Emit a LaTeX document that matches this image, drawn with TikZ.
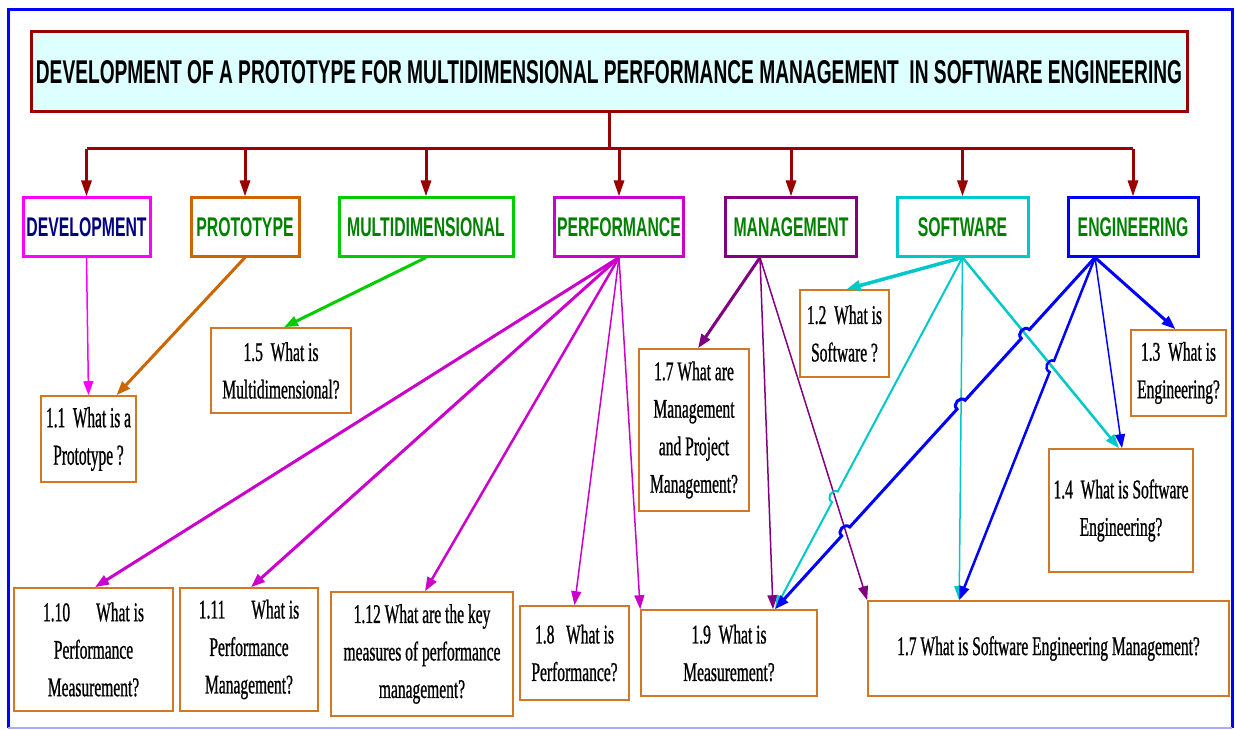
\documentclass[tikz,border=0pt]{standalone}
\usepackage{fontspec}
\usepackage{graphicx}
\usetikzlibrary{arrows.meta,calc,intersections}

\newfontfamily\labfont{Liberation Sans}[FakeStretch=0.585]
\newfontfamily\leaffont{Liberation Serif}[FakeStretch=0.575,FakeBold=0.8]
\newfontfamily\leafwidefont{Liberation Serif}[FakeStretch=0.53,FakeBold=0.8]

\definecolor{treered}{RGB}{153,0,0}
\definecolor{titlefill}{RGB}{221,255,255}
\definecolor{devmag}{RGB}{255,0,255}
\definecolor{protobrown}{RGB}{204,102,0}
\definecolor{multigreen}{RGB}{0,204,0}
\definecolor{perfmag}{RGB}{204,0,204}
\definecolor{mgmtpurple}{RGB}{128,0,128}
\definecolor{softcyan}{RGB}{0,200,200}
\definecolor{engblue}{RGB}{0,0,255}
\definecolor{labgreen}{RGB}{0,128,0}
\definecolor{labnavy}{RGB}{0,0,128}
\definecolor{leaforange}{RGB}{209,119,37}
\definecolor{paleblue}{RGB}{170,170,255}

\begin{document}
\begin{tikzpicture}[x=1pt,y=-1pt,
  tree/.style={draw=treered, line width=3pt},
  treetip/.style={-{Triangle[length=16pt,width=10pt]}},
  catbox/.style={draw, line width=3pt, fill=white, inner sep=0pt,
    minimum height=58pt, text=labgreen,
    font=\labfont\bfseries\fontsize{27}{30}\selectfont},
  leaf/.style={draw=leaforange, line width=1.6pt, fill=white, inner sep=0pt,
    align=center, font=\leaffont\fontsize{27}{37.5}\selectfont},
  con/.style={-{Triangle[length=14pt,width=10pt]}},
  hop/.style={bend right=90, looseness=1.5}
]
\useasboundingbox (0,0) rectangle (1236,730);

% outer frame
\draw[engblue, line width=3pt] (8,728) -- (8,10) -- (1232,10) -- (1232,728);
\draw[paleblue, line width=2pt] (8,728) -- (1232,728);

% title
\node[draw=treered, line width=3pt, fill=titlefill, minimum width=1156pt,
      minimum height=80pt, inner sep=0pt] (title) at (609,72)
  {\resizebox{1146pt}{23pt}{\labfont\bfseries DEVELOPMENT OF A PROTOTYPE FOR MULTIDIMENSIONAL PERFORMANCE MANAGEMENT\ \ IN SOFTWARE ENGINEERING}};

% keyword boxes
\node[catbox, draw=devmag, minimum width=127pt, text=labnavy] (dev) at (86.5,227) {DEVELOPMENT};
\node[catbox, draw=protobrown, minimum width=108pt] (proto) at (245,227) {PROTOTYPE};
\node[catbox, draw=multigreen, minimum width=174pt] (multi) at (426,227) {MULTIDIMENSIONAL};
\node[catbox, draw=perfmag, minimum width=129pt] (perf) at (619,227) {PERFORMANCE};
\node[catbox, draw=mgmtpurple, minimum width=131pt] (mgmt) at (791,227) {MANAGEMENT};
\node[catbox, draw=softcyan, minimum width=131pt] (soft) at (962.5,227) {SOFTWARE};
\node[catbox, draw=engblue, minimum width=130pt] (eng) at (1133,227) {ENGINEERING};

% tree from title to keywords
\coordinate (bus) at (0,149);
\draw[tree] (title.south) -- (title.south |- bus);
\draw[tree] (dev.north |- bus) -- (eng.north |- bus);
\foreach \n in {dev,proto,multi,perf,mgmt,soft,eng}
  \draw[tree, treetip] (\n.north |- bus) -- (\n.north);

% question boxes
\node[leaf, minimum width=95pt, minimum height=86pt, font=\leafwidefont\fontsize{29}{37.5}\selectfont] (q11) at (88.5,439) {1.1\ \ What is a\\Prototype ?};
\node[leaf, minimum width=140pt, minimum height=85pt] (q15) at (281,370.5) {1.5\ \ What is\\Multidimensional?};
\node[leaf, minimum width=89pt, minimum height=87pt] (q12) at (844.5,333.5) {1.2\ \ What is\\Software ?};
\node[leaf, minimum width=95pt, minimum height=86pt] (q13) at (1178.5,373) {1.3\ \ What is\\Engineering?};
\node[leaf, minimum width=110pt, minimum height=162pt] (q17) at (694,430) {1.7 What are\\Management\\and Project\\Management?};
\node[leaf, minimum width=144pt, minimum height=123pt] (q14) at (1121,510.5) {1.4\ \ What is Software\\Engineering?};
\node[leaf, minimum width=159pt, minimum height=123pt] (q110) at (93.5,649.5) {1.10\hspace{26pt}What is\\Performance\\Measurement?};
\node[leaf, minimum width=138pt, minimum height=123pt] (q111) at (249,649.5) {1.11\hspace{26pt}What is\\Performance\\Management?};
\node[leaf, minimum width=182pt, minimum height=124pt] (q112) at (422,654) {1.12 What are the key\\measures of performance\\management?};
\node[leaf, minimum width=109pt, minimum height=94pt] (q18) at (574.5,653) {1.8\ \ \ What is\\Performance?};
\node[leaf, minimum width=176pt, minimum height=86pt] (q19) at (729,653) {1.9\ \ What is\\Measurement?};
\node[leaf, minimum width=361pt, minimum height=95pt] (sem) at (1048.5,648.5) {1.7 What is Software Engineering Management?};

% connector origins and shared targets
\coordinate (perfO) at (perf.south);
\coordinate (mgmtO) at ($(mgmt.south)+(-31,0)$);
\coordinate (softO) at (soft.south);
\coordinate (engO) at ($(eng.south)+(-38,0)$);
\coordinate (t19) at ($(q19.north)+(46,0)$);
\coordinate (tsem) at ($(sem.north west)+(92,0)$);

% development, prototype, multidimensional
\draw[con, devmag, line width=1.5pt] (dev.south) -- (q11.north);
\draw[con, protobrown, line width=3pt] (proto.south) -- ($(q11.north)+(28,0)$);
\draw[con, multigreen, line width=3pt] (multi.south) -- ($(q15.north)+(3,0)$);

% performance
\draw[con, perfmag, line width=3pt] (perfO) -- ($(q110.north)+(1.5,0)$);
\draw[con, perfmag, line width=3pt] (perfO) -- ($(q111.north)+(2,0)$);
\draw[con, perfmag, line width=2.5pt] (perfO) -- ($(q112.north)+(3,0)$);
\draw[con, perfmag, line width=1.5pt] (perfO) -- (q18.north);
\draw[con, perfmag, line width=1.5pt] (perfO) -- (q19.north west);

% management
\draw[con, mgmtpurple, line width=3pt] (mgmtO) -- ($(q17.north)+(4,0)$);
\draw[con, mgmtpurple, line width=1.5pt] (mgmtO) -- ($(q19.north)+(44,0)$);
\draw[con, mgmtpurple, line width=1.5pt, name path=msem] (mgmtO) -- (sem.north west);

% software
\draw[con, softcyan, line width=3.5pt] (softO) -- ($(q12.north)+(2,0)$);
\draw[con, softcyan, line width=1.5pt, name path=ssem] (softO) -- (tsem);
\draw[con, softcyan, line width=2.5pt, name path=s14] (softO) -- ($(q14.north)+(-2,0)$);
\path[name path=s19] (softO) -- (t19);
\path[name intersections={of=s19 and msem, by=c1}];
\draw[con, softcyan, line width=2pt] (softO) -- ($(c1)!6pt!(softO)$)
  to[hop] ($(c1)!6pt!(t19)$) -- (t19);

% engineering
\draw[con, engblue, line width=3pt] (engO) -- ($(q13.north)+(-3,0)$);
\draw[con, engblue, line width=1.5pt] (engO) -- ($(q14.north)+(1,0)$);
\path[name path=e19] (engO) -- (t19);
\path[name intersections={of=e19 and s14, by=b1}];
\path[name intersections={of=e19 and ssem, by=b2}];
\path[name intersections={of=e19 and msem, by=b3}];
\draw[con, engblue, line width=3pt] (engO)
  -- ($(b1)!6pt!(engO)$) to[hop] ($(b1)!6pt!(t19)$)
  -- ($(b2)!6pt!(engO)$) to[hop] ($(b2)!6pt!(t19)$)
  -- ($(b3)!6pt!(engO)$) to[hop] ($(b3)!6pt!(t19)$)
  -- (t19);
\path[name path=esem] (engO) -- (tsem);
\path[name intersections={of=esem and s14, by=b4}];
\draw[con, engblue, line width=2.5pt] (engO) -- ($(b4)!6pt!(engO)$)
  to[hop] ($(b4)!6pt!(tsem)$) -- (tsem);
\end{tikzpicture}
\end{document}
